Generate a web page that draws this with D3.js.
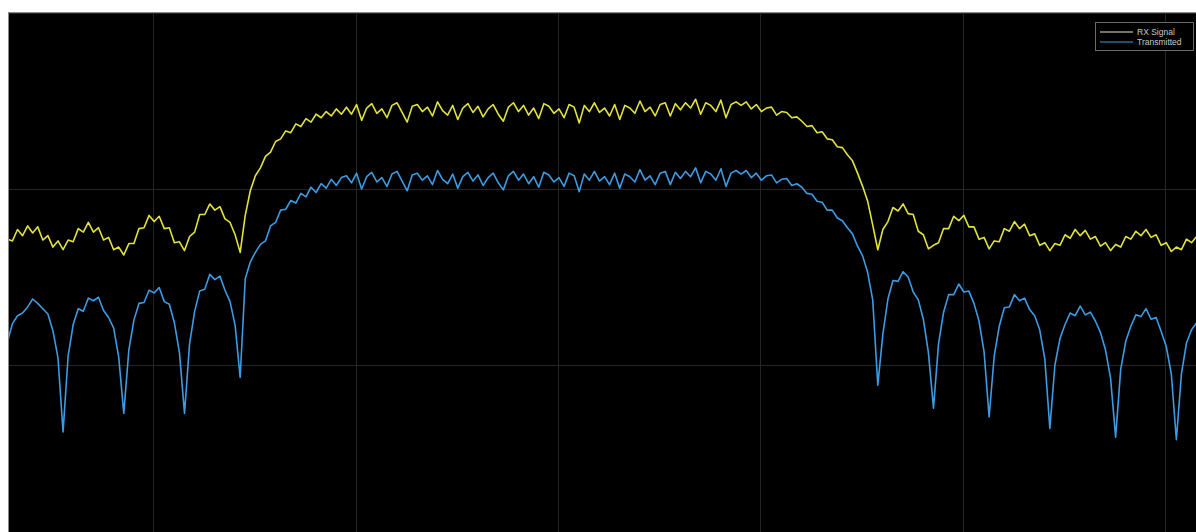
<!DOCTYPE html>
<html>
<head>
<meta charset="utf-8">
<script src="https://cdn.jsdelivr.net/npm/d3@7"></script>
<style>
  body { margin: 0; background: #fff; }
  svg { display: block; }
</style>
</head>
<body>
<div id="div_spectrum"></div>
<script>

// spectrum bins: frequency of bin i = freqStart + i*freqStep
var freqStart = -2.72;
var freqStep = 0.025;

var seriesNames = ["RX Signal", "Transmitted"];

var rxSignal = [
  -45.7, -45.9, -44.6, -45.3, -44.2, -45.0, -44.3, -45.8, -45.3, -46.6,
  -45.9, -46.9, -45.8, -46.0, -44.5, -44.9, -43.8, -44.9, -44.4, -45.8,
  -45.5, -46.9, -46.6, -47.5, -46.2, -46.2, -44.5, -44.4, -43.0, -43.7,
  -43.1, -44.5, -44.4, -46.1, -46.0, -47.0, -45.4, -44.9, -42.9, -42.9,
  -41.7, -42.4, -42.0, -43.4, -43.8, -45.2, -47.2, -43.0, -40.2, -38.5,
  -37.6, -36.3, -35.8, -34.6, -34.3, -33.4, -33.6, -32.6, -32.9, -32.0,
  -32.4, -31.5, -31.9, -31.2, -31.7, -30.9, -31.5, -30.7, -31.5, -30.4,
  -32.2, -30.8, -30.3, -31.4, -30.9, -31.9, -30.5, -30.2, -31.3, -32.4,
  -30.6, -30.4, -31.2, -30.7, -31.7, -30.1, -31.1, -31.6, -30.5, -32.1,
  -30.8, -30.3, -31.3, -30.6, -31.8, -30.9, -30.4, -31.5, -32.3, -30.7,
  -30.2, -31.2, -30.5, -31.6, -30.8, -32.0, -30.3, -30.6, -31.4, -30.9,
  -31.9, -30.4, -30.7, -32.5, -30.5, -31.2, -30.2, -31.3, -30.8, -31.7,
  -30.4, -32.1, -30.5, -30.8, -31.4, -30.0, -31.2, -30.7, -31.7, -30.4,
  -30.2, -31.7, -30.3, -31.0, -30.2, -30.8, -29.8, -31.5, -30.2, -30.5,
  -31.2, -29.9, -31.9, -30.4, -30.1, -30.5, -30.1, -30.9, -30.4, -31.2,
  -30.8, -30.7, -31.6, -31.2, -31.3, -31.9, -31.8, -32.3, -32.9, -32.8,
  -33.6, -33.5, -34.3, -34.4, -35.2, -35.3, -36.1, -36.8, -38.2, -39.7,
  -41.4, -44.1, -46.9, -44.6, -43.7, -42.1, -42.5, -41.7, -42.8, -42.9,
  -44.8, -45.2, -46.8, -46.4, -46.1, -44.5, -44.5, -43.1, -43.6, -43.0,
  -44.3, -44.3, -45.7, -45.5, -46.8, -45.9, -46.0, -44.5, -44.8, -43.7,
  -44.5, -44.0, -45.3, -45.1, -46.4, -46.1, -47.0, -46.2, -46.4, -45.2,
  -45.6, -44.6, -45.3, -44.7, -45.7, -45.4, -46.5, -46.1, -47.0, -46.3,
  -46.6, -45.4, -45.7, -44.8, -45.3, -44.6, -45.5, -45.2, -46.4, -46.1,
  -47.1, -46.6, -46.9, -45.7, -46.1, -45.4
];

var transmitted = [
  -57.4, -55.3, -54.4, -54.1, -53.4, -52.5, -53.0, -53.6, -54.2, -56.1,
  -59.2, -67.6, -59.0, -55.4, -53.6, -53.9, -52.4, -52.7, -52.3, -53.8,
  -54.6, -55.8, -59.1, -65.5, -58.3, -54.9, -53.0, -52.9, -51.5, -51.8,
  -51.2, -52.8, -53.1, -55.2, -58.6, -65.5, -57.6, -53.9, -51.6, -51.4,
  -49.7, -50.3, -49.9, -51.5, -52.8, -55.5, -61.4, -50.2, -48.3, -47.2,
  -46.3, -45.9, -44.2, -43.8, -42.4, -42.3, -41.3, -41.6, -40.5, -40.9,
  -39.8, -40.4, -39.4, -39.9, -38.9, -39.6, -38.7, -38.5, -39.3, -38.2,
  -40.0, -38.6, -38.1, -39.2, -38.7, -39.7, -38.3, -38.0, -39.1, -40.2,
  -38.4, -38.2, -39.0, -38.5, -39.5, -37.9, -38.9, -39.4, -38.3, -39.9,
  -38.6, -38.1, -39.1, -38.4, -39.6, -38.7, -38.2, -39.3, -40.1, -38.5,
  -38.0, -39.0, -38.3, -39.4, -38.6, -39.8, -38.1, -38.4, -39.2, -38.7,
  -39.7, -38.2, -38.5, -40.3, -38.3, -39.0, -38.0, -39.1, -38.6, -39.5,
  -38.2, -39.9, -38.3, -38.6, -39.2, -37.8, -39.0, -38.5, -39.5, -38.2,
  -38.0, -39.5, -38.1, -38.8, -38.0, -38.6, -37.6, -39.3, -38.0, -38.3,
  -39.0, -37.7, -39.7, -38.2, -37.9, -38.3, -37.9, -38.7, -38.2, -39.0,
  -38.5, -38.4, -39.3, -38.9, -38.8, -39.6, -39.4, -39.8, -40.5, -40.6,
  -41.4, -41.5, -42.4, -42.4, -43.3, -43.6, -44.4, -45.1, -46.5, -47.6,
  -49.5, -52.6, -62.3, -56.5, -52.5, -50.4, -50.5, -49.4, -50.0, -51.7,
  -52.6, -54.8, -58.6, -64.9, -57.6, -54.0, -52.0, -52.0, -50.8, -51.7,
  -51.6, -53.0, -55.0, -58.5, -65.9, -59.0, -55.6, -53.5, -53.4, -52.0,
  -52.7, -52.4, -53.7, -54.4, -56.0, -59.3, -67.2, -60.0, -57.0, -55.4,
  -54.1, -54.4, -53.3, -54.3, -54.0, -55.0, -56.3, -58.3, -61.5, -68.2,
  -60.5, -57.3, -55.6, -54.3, -54.5, -53.6, -54.8, -54.6, -56.2, -57.9,
  -61.0, -68.5, -61.0, -57.5, -56.0, -55.2
];

var gridFreq = [-2, -1, 0, 1, 2, 3];
var gridLevel = [-20, -40, -60, -80];


var SpectrumChart = {};

(function(ns){
    ns.width = 1196;
    ns.height = 532;
    ns.plot = {left: 8, top: 12, right: 1196, bottom: 532};

    var svg = d3.select("#div_spectrum").append("svg")
        .attr("width", ns.width).attr("height", ns.height);

    svg.append("rect").attr("width", ns.width).attr("height", ns.height).style("fill", "#fff");

    var x = d3.scaleLinear().domain([-2.717, 3.152]).range([ns.plot.left, ns.plot.right]);
    var y = d3.scaleLinear().domain([-80, -20]).range([541, 13]);

    svg.append("clipPath").attr("id", "plotclip").append("rect")
        .attr("x", ns.plot.left).attr("y", ns.plot.top)
        .attr("width", ns.plot.right - ns.plot.left).attr("height", ns.plot.bottom - ns.plot.top);

    svg.append("rect")
        .attr("x", ns.plot.left).attr("y", ns.plot.top)
        .attr("width", ns.plot.right - ns.plot.left).attr("height", ns.plot.bottom - ns.plot.top)
        .style("fill", "#000");

    var g = svg.append("g").attr("clip-path", "url(#plotclip)");

    // grid
    g.selectAll("line.vgrid").data(gridFreq).enter().append("line")
        .attr("class", "vgrid")
        .attr("x1", function(d){ return Math.round(x(d)) + 0.5; })
        .attr("x2", function(d){ return Math.round(x(d)) + 0.5; })
        .attr("y1", ns.plot.top).attr("y2", ns.plot.bottom)
        .style("stroke", "#262626").style("stroke-width", 1);

    g.selectAll("line.hgrid").data(gridLevel).enter().append("line")
        .attr("class", "hgrid")
        .attr("x1", ns.plot.left).attr("x2", ns.plot.right)
        .attr("y1", function(d){ return Math.round(y(d)) + 0.5; })
        .attr("y2", function(d){ return Math.round(y(d)) + 0.5; })
        .style("stroke", "#262626").style("stroke-width", 1);

    var line = d3.line()
        .x(function(d, i){ return x(freqStart + i * freqStep); })
        .y(function(d){ return y(d); });

    g.append("path").datum(rxSignal).attr("d", line)
        .style("fill", "none").style("stroke", "#e2e23a").style("stroke-width", 1.6)
        .style("stroke-linejoin", "round");

    g.append("path").datum(transmitted).attr("d", line)
        .style("fill", "none").style("stroke", "#3c9be2").style("stroke-width", 1.6)
        .style("stroke-linejoin", "round");

    // axes box
    svg.append("line").attr("x1", ns.plot.left).attr("x2", ns.plot.right)
        .attr("y1", ns.plot.top + 0.5).attr("y2", ns.plot.top + 0.5)
        .style("stroke", "#8a8a8a");
    svg.append("line").attr("x1", ns.plot.left + 0.5).attr("x2", ns.plot.left + 0.5)
        .attr("y1", ns.plot.top).attr("y2", ns.plot.bottom)
        .style("stroke", "#8a8a8a");

    // legend
    var legendColors = ["#e6e6d2", "#3c9be2"];
    var lg = svg.append("g").attr("transform", "translate(1095,22)");
    lg.append("rect").attr("x", 0.5).attr("y", 0.5).attr("width", 98).attr("height", 28)
        .style("fill", "#000").style("stroke", "#6a6a6a");
    var row = lg.selectAll("g.row").data(seriesNames).enter().append("g")
        .attr("class", "row")
        .attr("transform", function(d, i){ return "translate(0," + (10 + i * 10) + ")"; });
    row.append("line").attr("x1", 5).attr("x2", 38).attr("y1", 0).attr("y2", 0)
        .style("stroke", function(d, i){ return legendColors[i]; }).style("stroke-width", 1.2);
    row.append("text").attr("x", 42).attr("y", 3).text(function(d){ return d; })
        .style("fill", "#c8c8c8").style("font-family", "Liberation Sans, Arial, sans-serif")
        .style("font-size", "8.5px");

})(SpectrumChart);

</script>
</body>
</html>
